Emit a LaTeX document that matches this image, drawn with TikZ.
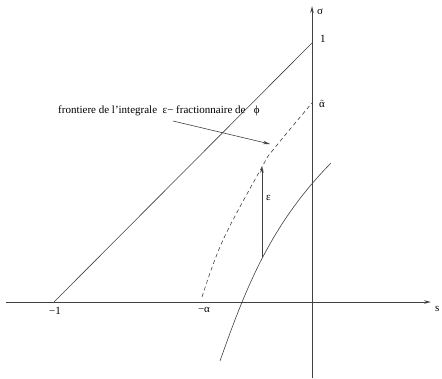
\documentclass[tikz,border=0pt]{standalone}
\usepackage{fontspec}
\setmainfont{Liberation Serif}
\usetikzlibrary{arrows.meta}
\begin{document}
\begin{tikzpicture}[x=1pt,y=-1pt,
  ln/.style={line width=0.6pt,black!75},
  arr/.style={ln,-{Stealth[length=7pt,width=3.5pt,open]}},
  lbl/.style={font=\fontsize{11}{13}\selectfont,inner sep=0pt}]
\useasboundingbox (0,0) rectangle (442,378);
% axes
\coordinate (xl) at (6,302);
\coordinate (xr) at (431,302);
\coordinate (yb) at (312,378);
\coordinate (yt) at (312,6);
\draw[arr] (xl) -- (xr);
\draw[arr] (yb) -- (yt);
\node[lbl,anchor=west] (s) at (435,309) {s};
\node[lbl,anchor=west] (sig) at (317,12) {σ};
% line from -1 to 1
\coordinate (m1) at (54,302);
\coordinate (p1) at (312,43);
\draw[ln] (m1) -- (p1);
\node[lbl,anchor=north] (lm1) at (55,307) {−1};
\node[lbl,anchor=west] (l1) at (320,39) {1};
% dashed curve
\coordinate (ma) at (202,297);
\coordinate (at) at (312,103);
\draw[ln,dashed,dash pattern=on 4pt off 3pt] plot[smooth,tension=0.6] coordinates {(ma) (223,240) (262,167) (273,150) (at)};
\node[lbl,anchor=north] (lma) at (204,307) {−α};
\node[lbl,anchor=west] (lat) at (319,104) {$\tilde{\hbox{α}}$};
% solid curve
\coordinate (cb) at (220,361);
\coordinate (ct) at (331,163);
\draw[ln] (cb) .. controls (245,290) and (270,225) .. (ct);
% epsilon arrow
\coordinate (eb) at (262,257);
\coordinate (et) at (262,166);
\draw[arr] (eb) -- (et);
\node[lbl,anchor=west] (eps) at (266,198) {ε};
% annotation
\node[lbl,anchor=base west] (txt) at (58,113) {frontiere de l’integrale\ \ ε− fractionnaire de\ \ \ ϕ};
\coordinate (a0) at (173,121);
\coordinate (a1) at (270,144);
\draw[arr] (a0) -- (a1);
\end{tikzpicture}
\end{document}
